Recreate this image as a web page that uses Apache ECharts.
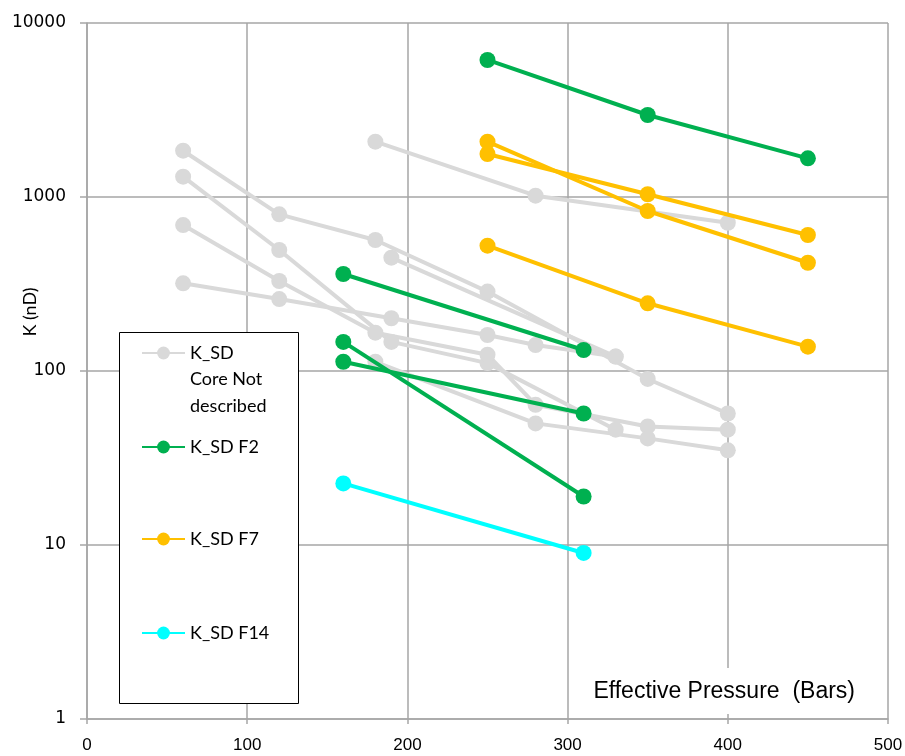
<!DOCTYPE html>
<html>
<head>
<meta charset="utf-8">
<script src="https://cdn.jsdelivr.net/npm/echarts@6/dist/echarts.min.js"></script>
<style>
  html, body { margin: 0; padding: 0; background: #fff; }
  #chart { width: 905px; height: 756px; }
</style>
</head>
<body>
<div id="chart"></div>
<script>
// Permeability (nD) versus effective pressure (bars), one line per core sample.
const xTicks = [0, 100, 200, 300, 400, 500];
const yTicks = [1, 10, 100, 1000, 10000];

// Samples whose core is not described
const greyLines = [
  [[60, 1845], [120, 795], [180, 566], [250, 286], [350, 90], [400, 57]],
  [[60, 1309], [120, 496], [190, 147], [250, 111], [330, 46]],
  [[60, 690], [120, 329], [180, 166], [250, 124], [280, 64], [350, 48], [400, 46]],
  [[60, 319], [120, 259], [190, 201], [250, 161], [280, 141], [330, 121]],
  [[180, 2080], [280, 1018], [400, 711]],
  [[190, 448], [330, 121]],
  [[180, 113], [280, 50], [350, 41], [400, 35]]
];
// Facies F2
const f2Lines = [
  [[250, 6130], [350, 2960], [450, 1668]],
  [[160, 361], [310, 132]],
  [[160, 147], [310, 19]],
  [[160, 113], [310, 57]]
];
// Facies F7
const f7Lines = [
  [[250, 2080], [350, 831], [450, 419]],
  [[250, 1767], [350, 1037], [450, 605]],
  [[250, 525], [350, 245], [450, 138]]
];
// Facies F14
const f14Lines = [
  [[160, 22.6], [310, 9]]
];

const NAME_GREY = 'K_SD Core Not described';
const NAME_F2 = 'K_SD F2';
const NAME_F7 = 'K_SD F7';
const NAME_F14 = 'K_SD F14';

const GREY = '#d9d9d9', GREEN = '#00b050', YELLOW = '#ffc000', CYAN = '#00ffff';
const GRID = '#a6a6a6';

function lineSeries(name, color, lines, z) {
  return lines.map(pts => ({
    name: name,
    type: 'line',
    data: pts,
    z: z,
    symbol: 'circle',
    symbolSize: 16,
    showSymbol: true,
    itemStyle: { color: color },
    lineStyle: { color: color, width: 4 },
    emphasis: { disabled: true },
    animation: false
  }));
}

const series = [].concat(
  lineSeries(NAME_GREY, GREY, greyLines, 2),
  lineSeries(NAME_F2, GREEN, f2Lines, 3),
  lineSeries(NAME_F7, YELLOW, f7Lines, 3),
  lineSeries(NAME_F14, CYAN, f14Lines, 3)
);

const legendFont = { fontFamily: 'Lato', fontSize: 18, color: '#000', lineHeight: 26.5 };
function legendAt(name, label, centerY, lines) {
  return {
    data: [name],
    orient: 'vertical',
    left: 141,
    top: centerY - lines * 26.5 / 2,
    itemWidth: 43,
    itemHeight: 16,
    itemGap: 0,
    padding: 0,
    selectedMode: false,
    formatter: () => label,
    textStyle: legendFont
  };
}

const chart = echarts.init(document.getElementById('chart'), null, { renderer: 'canvas' });
chart.setOption({
  animation: false,
  backgroundColor: '#fff',
  title: {
    text: 'Effective Pressure  (Bars)',
    right: 44,
    top: 668,
    padding: [11, 6, 9, 8],
    backgroundColor: '#fff',
    textStyle: {
      color: '#000',
      fontSize: 23,
      fontWeight: 'normal',
      fontFamily: 'Liberation Sans',
      lineHeight: 26
    }
  },
  grid: { left: 87, right: 17, top: 23, bottom: 37, containLabel: false, outerBoundsMode: 'none' },
  xAxis: {
    type: 'value',
    min: 0, max: 500, interval: 100,
    axisLine: { show: true, lineStyle: { color: GRID, width: 1.5 } },
    axisTick: { show: true, length: 5, lineStyle: { color: GRID, width: 1.5 } },
    splitLine: { show: true, lineStyle: { color: GRID, width: 1.5 } },
    axisLabel: {
      margin: 18, color: '#000', fontSize: 17,
      fontFamily: 'Liberation Sans Narrow, Liberation Sans, sans-serif',
      formatter: v => xTicks.includes(v) ? String(v) : ''
    }
  },
  yAxis: {
    type: 'log',
    logBase: 10,
    min: 1, max: 10000,
    axisLine: { show: true, lineStyle: { color: GRID, width: 1.5 } },
    axisTick: { show: true, length: 7, lineStyle: { color: GRID, width: 1.5 } },
    splitLine: { show: true, lineStyle: { color: GRID, width: 1.5 } },
    minorTick: { show: false },
    axisLabel: {
      margin: 21, color: '#000', fontSize: 17,
      fontFamily: 'DejaVu Sans',
      formatter: v => yTicks.includes(Math.round(v)) ? String(Math.round(v)) : ''
    },
    name: 'K (nD)',
    nameLocation: 'middle',
    nameGap: 57,
    nameRotate: 90,
    nameMoveOverlap: false,
    nameTextStyle: {
      color: '#000', fontSize: 18, fontFamily: 'Lato',
      verticalAlign: 'middle',
      padding: [0, 0, 0, 118]
    }
  },
  legend: [
    legendAt(NAME_GREY, '\n\nK_SD\nCore Not\ndescribed', 353, 5),
    legendAt(NAME_F2, 'K_SD F2', 447, 1),
    legendAt(NAME_F7, 'K_SD F7', 539, 1),
    legendAt(NAME_F14, 'K_SD F14', 633, 1)
  ],
  graphic: [{
    type: 'rect',
    z: 1,
    shape: { x: 119.5, y: 332.5, width: 179, height: 371 },
    style: { fill: '#fff', stroke: '#000', lineWidth: 1 }
  }],
  series: series
});
</script>
</body>
</html>
